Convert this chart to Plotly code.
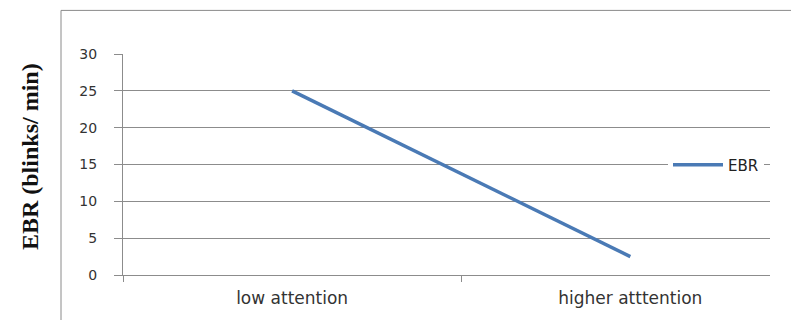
import plotly.graph_objects as go

# Eye blink rate by attention level
categories = ["low attention", "higher atttention"]
ebr_values = [25, 2.5]
y_ticks = [0, 5, 10, 15, 20, 25, 30]

W, H = 791, 320
L, R, T, B = 123, 21, 54, 43
plot_w = W - L - R
plot_h = H - T - B

fig = go.Figure()
fig.add_trace(go.Scatter(
    x=categories, y=ebr_values, mode="lines", name="EBR",
    line=dict(color="#4a7ab5", width=3.5),
))

sans = "DejaVu Sans"
grid_col = "#8c8c8c"

fig.update_layout(
    width=W, height=H,
    margin=dict(l=L, r=R, t=T, b=B, pad=0),
    paper_bgcolor="white", plot_bgcolor="white",
    showlegend=True,
    legend=dict(
        x=(668 - L) / plot_w, y=(H - B - 166) / plot_h,
        xanchor="left", yanchor="middle",
        bgcolor="white", borderwidth=0, itemwidth=50,
        font=dict(family=sans, size=15, color="#222222"),
    ),
    xaxis=dict(
        type="category", range=[-0.5, 1.413],
        tickson="boundaries", ticks="outside", ticklen=6, tickcolor=grid_col,
        ticklabelstandoff=8,
        showgrid=False, showline=True, linecolor=grid_col, linewidth=1,
        tickfont=dict(family=sans, size=17, color="#333333"),
        zeroline=False,
    ),
    yaxis=dict(
        range=[0, 30], tickvals=y_ticks,
        ticks="outside", ticklen=8, tickcolor=grid_col,
        ticklabelstandoff=14,
        showgrid=True, gridcolor=grid_col, gridwidth=1,
        showline=True, linecolor=grid_col, linewidth=1,
        zeroline=False,
        tickfont=dict(family=sans, size=14, color="#333333"),
    ),
)

# Y-axis title
fig.add_annotation(
    text="<b>EBR (blinks/ min)</b>", textangle=-90, showarrow=False,
    xref="paper", yref="paper",
    x=(30 - L) / plot_w, y=(H - B - 158) / plot_h,
    xanchor="center", yanchor="middle",
    font=dict(family="Liberation Serif", size=24, color="#111111"),
)

# Chart-area frame (top and left edges visible)
fx = (61 - L) / plot_w
fy = (H - B - 10) / plot_h
fig.add_shape(type="line", xref="paper", yref="paper",
              x0=fx, y0=fy, x1=1.2, y1=fy, line=dict(color="#8a8a8a", width=1))
fig.add_shape(type="line", xref="paper", yref="paper",
              x0=fx, y0=fy, x1=fx, y1=-0.5, line=dict(color="#8a8a8a", width=1))

fig.write_html("out.html")
